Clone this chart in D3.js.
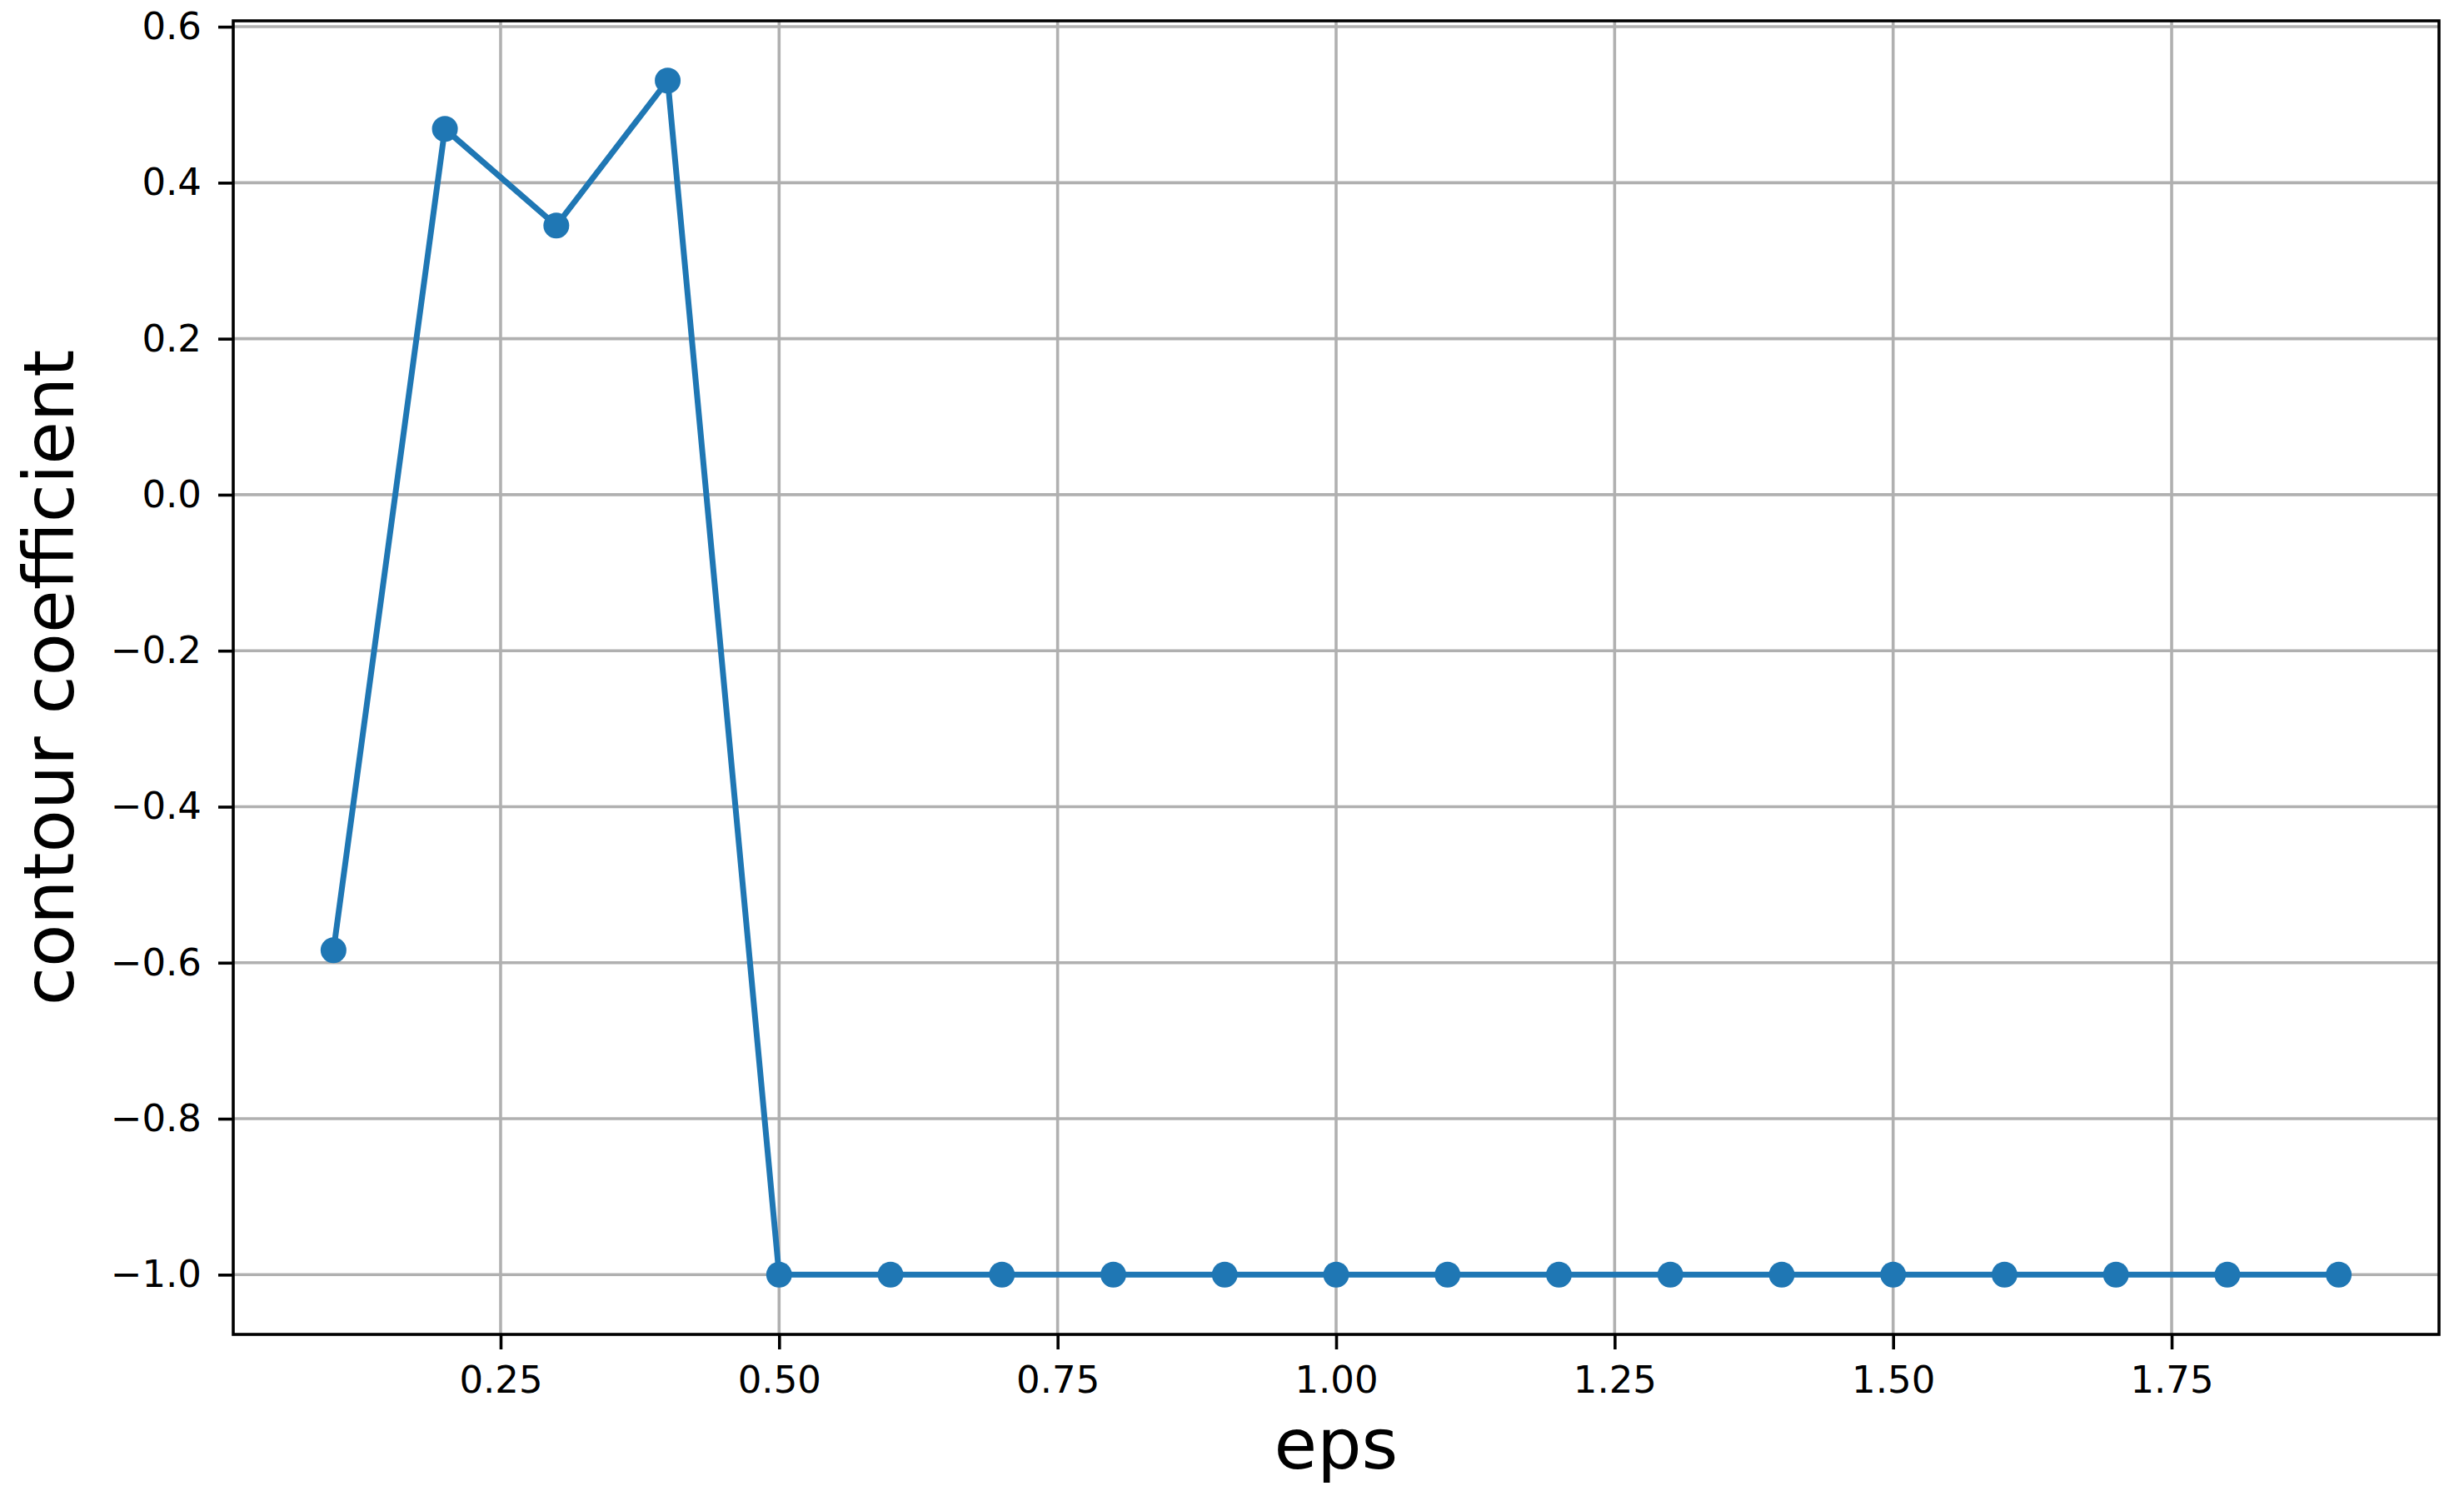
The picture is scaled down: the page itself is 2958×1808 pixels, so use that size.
<!DOCTYPE html>
<html>
<head>
<meta charset="utf-8">
<script src="https://cdn.jsdelivr.net/npm/d3@7"></script>
<style>
  body { margin: 0; background: #fff; }
  text { font-family: "DejaVu Sans", sans-serif; fill: #000; }
</style>
</head>
<body>
<div id="chart"></div>
<script>
// podaci
const epsValues = [0.1, 0.2, 0.3, 0.4, 0.5, 0.6, 0.7, 0.8, 0.9, 1.0, 1.1, 1.2, 1.3, 1.4, 1.5, 1.6, 1.7, 1.8, 1.9];
const coefValues = [-0.584, 0.469, 0.345, 0.531, -1, -1, -1, -1, -1, -1, -1, -1, -1, -1, -1, -1, -1, -1, -1];
const xTicks = [0.25, 0.5, 0.75, 1.0, 1.25, 1.5, 1.75];
const yTicks = [-1.0, -0.8, -0.6, -0.4, -0.2, 0.0, 0.2, 0.4, 0.6];
const xLabel = "eps";
const yLabel = "contour coefficient";

const data = epsValues.map((e, i) => ({ eps: e, coef: coefValues[i] }));

// dimenzije
const dim = {
    width: 2958,
    height: 1808,
    margin: { top: 25, right: 30, bottom: 206, left: 280 }
};
dim.boundsWidth = dim.width - dim.margin.left - dim.margin.right;
dim.boundsHeight = dim.height - dim.margin.top - dim.margin.bottom;

const svg = d3.select("#chart")
    .append("svg")
    .attr("width", dim.width)
    .attr("height", dim.height);

const bounds = svg.append("g")
    .attr("transform", `translate(${dim.margin.left},${dim.margin.top})`);

// mjerila (matplotlib margine 5%)
const xExt = d3.extent(epsValues);
const xPad = (xExt[1] - xExt[0]) * 0.05;
const yExt = d3.extent(coefValues);
const yPad = (yExt[1] - yExt[0]) * 0.05;

const xScale = d3.scaleLinear()
    .domain([xExt[0] - xPad, xExt[1] + xPad])
    .range([0, dim.boundsWidth]);

const yScale = d3.scaleLinear()
    .domain([yExt[0] - yPad, yExt[1] + yPad])
    .range([dim.boundsHeight, 0]);

// mreza
bounds.append("g")
    .selectAll("line")
    .data(xTicks)
    .join("line")
    .attr("x1", d => xScale(d)).attr("x2", d => xScale(d))
    .attr("y1", 0).attr("y2", dim.boundsHeight)
    .attr("stroke", "#b0b0b0").attr("stroke-width", 3.6);

bounds.append("g")
    .selectAll("line")
    .data(yTicks)
    .join("line")
    .attr("y1", d => yScale(d)).attr("y2", d => yScale(d))
    .attr("x1", 0).attr("x2", dim.boundsWidth)
    .attr("stroke", "#b0b0b0").attr("stroke-width", 3.6);

// osi
const fmtY = d => d3.format(".1f")(d).replace("-", "\u2212");

const yAxis = bounds.append("g")
    .call(d3.axisLeft(yScale).tickValues(yTicks).tickFormat(fmtY).tickSize(18).tickPadding(20));

const xAxis = bounds.append("g")
    .attr("transform", `translate(0,${dim.boundsHeight})`)
    .call(d3.axisBottom(xScale).tickValues(xTicks).tickFormat(d3.format(".2f")).tickSize(18).tickPadding(20));

[xAxis, yAxis].forEach(a => {
    a.select(".domain").remove();
    a.selectAll(".tick line").attr("stroke", "#000").attr("stroke-width", 3.6);
    a.selectAll(".tick text")
        .style("font-family", "'DejaVu Sans', sans-serif")
        .style("font-size", "45px")
        .attr("fill", "#000");
});

// linija i tocke
const line = d3.line()
    .x(d => xScale(d.eps))
    .y(d => yScale(d.coef));

bounds.append("path")
    .datum(data)
    .attr("d", line)
    .attr("fill", "none")
    .attr("stroke", "#1f77b4")
    .attr("stroke-width", 7)
    .attr("stroke-linejoin", "round");

bounds.append("g")
    .selectAll("circle")
    .data(data)
    .join("circle")
    .attr("cx", d => xScale(d.eps))
    .attr("cy", d => yScale(d.coef))
    .attr("r", 15.5)
    .attr("fill", "#1f77b4");

// okvir
bounds.append("rect")
    .attr("x", 0).attr("y", 0)
    .attr("width", dim.boundsWidth)
    .attr("height", dim.boundsHeight)
    .attr("fill", "none")
    .attr("stroke", "#000")
    .attr("stroke-width", 3.6);

// oznake osi
svg.append("text")
    .attr("text-anchor", "middle")
    .attr("x", dim.margin.left + dim.boundsWidth / 2)
    .attr("y", 1763)
    .style("font-size", "84px")
    .text(xLabel);

svg.append("text")
    .attr("text-anchor", "middle")
    .attr("transform", `translate(88,${dim.margin.top + dim.boundsHeight / 2}) rotate(-90)`)
    .style("font-size", "84px")
    .text(yLabel);
</script>
</body>
</html>
